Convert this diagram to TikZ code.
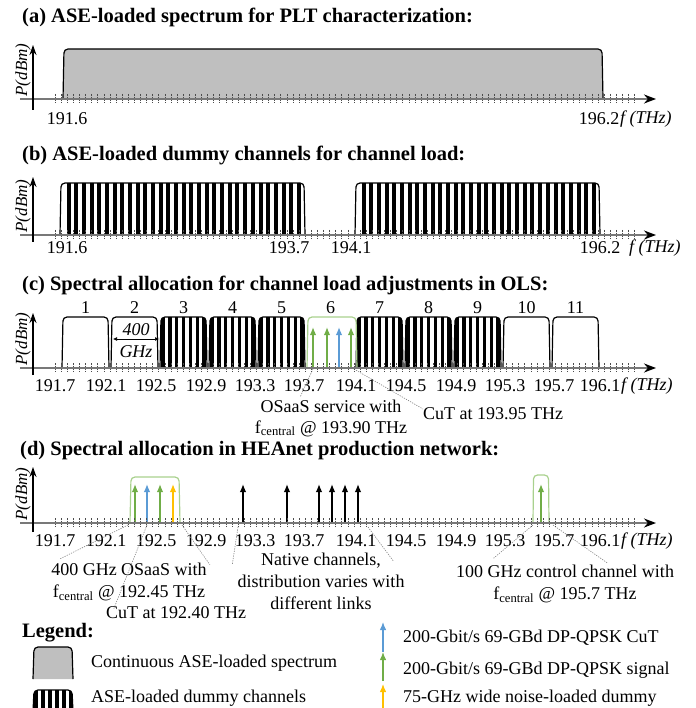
\documentclass[tikz,border=0pt]{standalone}
\usepackage{fontspec}
\setmainfont{Liberation Serif}
\usetikzlibrary{arrows.meta,positioning,calc}
\definecolor{sigblue}{RGB}{91,155,213}
\definecolor{siggreen}{RGB}{112,173,71}
\definecolor{sigyellow}{RGB}{255,192,0}
\definecolor{boxgreen}{RGB}{169,209,142}
\definecolor{asegray}{RGB}{191,191,191}
\definecolor{axisgray}{RGB}{120,120,120}
\tikzset{
    paneltitle/.style={anchor=west, inner sep=0pt, font=\fontsize{20.5}{22}\selectfont\bfseries},
    freq/.style={inner sep=0pt, font=\fontsize{18}{20}\selectfont},
    unitlabel/.style={anchor=west, inner sep=0pt, font=\fontsize{18}{20}\selectfont\itshape},
    powerlabel/.style={rotate=90, inner sep=0pt, font=\fontsize{17}{19}\selectfont\itshape},
    note/.style={inner sep=0pt, align=center, font=\fontsize{18}{22}\selectfont},
    legendtext/.style={anchor=west, inner sep=0pt, font=\fontsize{18}{20}\selectfont},
    faxis/.style={axisgray, line width=1.8pt, -{Stealth[black, length=12pt, width=9pt]}},
    paxis/.style={black, line width=1.2pt, -{Stealth[length=10pt, width=7pt]}},
    fticks/.style={black!70, line width=0.6pt, dash pattern=on 1.6pt off 1pt},
    chan/.style={black, line width=1.2pt, rounded corners=4pt},
    osaas/.style={boxgreen, line width=1.2pt, rounded corners=4pt},
    sig/.style={line width=1.5pt, -{Latex[length=8pt, width=6.5pt]}},
    leader/.style={gray, line width=0.6pt, dash pattern=on 1.2pt off 1.2pt},
}

\begin{document}
\begin{tikzpicture}[x=1pt, y=-1pt]
    \useasboundingbox (0,0) rectangle (695,708);

    % (a) continuous ASE
    \node[paneltitle] (ta) at (22,17) {(a) ASE-loaded spectrum for PLT characterization:};
    \draw[chan, fill=asegray] (63,99) -- (64,49) -- (602,49) -- (603,99);
    \node[freq] (fa1) at (67,119) {191.6};
    \node[freq] (fa2) at (599,119) {196.2};
    \node[unitlabel] (ua) at (620,119) {f (THz)};

    % (b) dummy channels
    \node[paneltitle] (tb) at (22,155) {(b) ASE-loaded dummy channels for channel load:};
    \foreach \bx in {60,355} {
        \begin{scope}
            \clip[rounded corners=4pt] (\bx,235) -- (\bx+1,183) -- (\bx+244,183) -- (\bx+245,235) -- cycle;
            \foreach \i in {0,...,30}
                \fill ({\bx+6.5+7.68*\i},183) rectangle ++(4,52);
        \end{scope}
        \draw[chan] (\bx,235) -- (\bx+1,183) -- (\bx+244,183) -- (\bx+245,235);
    }
    \foreach \f/\x [count=\k] in {191.6/67, 193.7/289, 194.1/351, 196.2/600}
        \node[freq] (fb\k) at (\x,248) {\f};
    \node[unitlabel] (ub) at (629,248) {f (THz)};

    % (c) channel load in OLS
    \node[paneltitle] (tc) at (22,285) {(c) Spectral allocation for channel load adjustments in OLS:};
    \foreach \n in {1,2,10,11} {
        \pgfmathsetmacro\bx{62+49*(\n-1)}
        \draw[chan] (\bx,368) -- (\bx+1,317) -- (\bx+46,317) -- (\bx+47,368);
    }
    \foreach \n in {3,4,5,7,8,9} {
        \pgfmathsetmacro\bx{62+49*(\n-1)}
        \begin{scope}
            \clip[rounded corners=4pt] (\bx,368) -- (\bx+1,317) -- (\bx+46,317) -- (\bx+47,368) -- cycle;
            \foreach \i in {0,...,6}
                \fill ({\bx+1+6.9*\i},317) rectangle ++(3.6,51);
        \end{scope}
        \draw[chan] (\bx,368) -- (\bx+1,317) -- (\bx+46,317) -- (\bx+47,368);
    }
    \draw[osaas] (307,368) -- (308,317) -- (356,317) -- (357,368);
    \foreach \x/\col in {313/siggreen, 327/siggreen, 339/sigblue, 351/siggreen}
        \draw[sig, \col] (\x,368) -- (\x,327);
    \foreach \n in {1,...,11}
        \node[freq] (ch\n) at ({85.5+49*(\n-1)},308) {\n};
    \coordinate (gl) at (113,339);
    \coordinate (gr) at (159,339);
    \draw[{Latex[length=4pt,width=4pt]}-{Latex[length=4pt,width=4pt]}, line width=0.7pt] (gl) -- (gr);
    \node[freq, font=\fontsize{18}{20}\selectfont\itshape] (w400) at (136,330) {400};
    \node[freq, font=\fontsize{18}{20}\selectfont\itshape] (wghz) at (136,352) {GHz};
    \foreach \f/\x [count=\k] in {191.7/55, 192.1/106, 192.5/156, 192.9/206, 193.3/255, 193.7/304, 194.1/356, 194.5/406, 194.9/456, 195.3/505, 195.7/554, 196.1/600}
        \node[freq] (fc\k) at (\x,386) {\f};
    \node[unitlabel] (uc) at (621,386) {f (THz)};
    \node[note, font=\fontsize{18}{21}\selectfont] (osaasc) at (331,418) {OSaaS service with\\f\textsubscript{central} @ 193.90 THz};
    \node[note, anchor=west] (cutc) at (423,414) {CuT at 193.95 THz};
    \coordinate (osaascL) at (313,369);
    \coordinate (cutcL) at (354,369);
    \draw[leader] (osaascL) -- ([xshift=-31pt,yshift=2pt]osaasc.north);
    \draw[leader] (cutcL) -- ([yshift=5pt]cutc.west);

    % (d) HEAnet production network
    \node[paneltitle] (td) at (20,451) {(d) Spectral allocation in HEAnet production network:};
    \draw[osaas] (130,523) -- (131,477) -- (179,477) -- (180,523);
    \draw[osaas] (533,523) -- (533.5,475) -- (548.5,475) -- (549,523);
    \foreach \x/\col in {135/siggreen, 147/sigblue, 160/siggreen, 173/sigyellow, 541/siggreen}
        \draw[sig, \col] (\x,523) -- (\x,484);
    \foreach \x in {243,287,319,332,345,358}
        \draw[sig, black] (\x,523) -- (\x,484);
    \foreach \f/\x [count=\k] in {191.7/55, 192.1/106, 192.5/156, 192.9/206, 193.3/255, 193.7/304, 194.1/356, 194.5/406, 194.9/456, 195.3/505, 195.7/554, 196.1/600}
        \node[freq] (fd\k) at (\x,541) {\f};
    \node[unitlabel] (ud) at (621,541) {f (THz)};
    \node[note] (osaasd) at (129,582) {400 GHz OSaaS with\\f\textsubscript{central} @ 192.45 THz};
    \node[note] (cutd) at (176,613) {CuT at 192.40 THz};
    \node[note] (native) at (321,581) {Native channels,\\distribution varies with\\different links};
    \node[note] (ctrl) at (565,584) {100 GHz control channel with\\f\textsubscript{central} @ 195.7 THz};
    \coordinate (osaasdL) at (128,525);
    \coordinate (osaasdR) at (182,525);
    \coordinate (cutdL) at (147,525);
    \coordinate (nativeL) at (238,527);
    \coordinate (nativeR) at (368,527);
    \coordinate (ctrlL) at (533,525);
    \coordinate (ctrlR) at (553,525);
    \draw[leader] (osaasdL) -- ([xshift=9pt,yshift=4pt]osaasd.north west);
    \draw[leader] (osaasdR) -- ([xshift=3pt,yshift=-2pt]osaasd.north east);
    \draw[leader] (cutdL) -- ([xshift=8pt,yshift=-2pt]cutd.north west);
    \draw[leader] (nativeL) -- ([xshift=-5pt,yshift=-12pt]native.north west);
    \draw[leader] (nativeR) -- ([xshift=-11pt,yshift=-9pt]native.north east);
    \draw[leader] (ctrlL) -- ([xshift=37pt,yshift=6pt]ctrl.north west);
    \draw[leader] (ctrlR) -- ([xshift=-67pt,yshift=2pt]ctrl.north east);

    % Legend
    \node[paneltitle] (legend) at (22,633) {Legend:};
    \draw[chan, fill=asegray] (33,679) -- (34,647) -- (72,647) -- (73,679);
    \node[legendtext] (lgcont) at (91,663) {Continuous ASE-loaded spectrum};
    \begin{scope}
        \clip[rounded corners=4pt] (33,712) -- (34,690) -- (72,690) -- (73,712) -- cycle;
        \foreach \i in {0,...,5}
            \fill ({33.5+7*\i},690) rectangle ++(4,22);
    \end{scope}
    \draw[chan] (33,712) -- (34,690) -- (72,690) -- (73,712);
    \node[legendtext] (lgdummy) at (91,698) {ASE-loaded dummy channels};
    \draw[sig, sigblue, line width=1.2pt] (383,652) -- (383,622);
    \draw[sig, siggreen, line width=1.2pt] (383,681) -- (383,652);
    \draw[sig, sigyellow, line width=1.2pt] (383,710) -- (383,684);
    \node[legendtext] (lgcut) at (403,638) {200-Gbit/s 69-GBd DP-QPSK CuT};
    \node[legendtext] (lgsig) at (403,670) {200-Gbit/s 69-GBd DP-QPSK signal};
    \node[legendtext] (lgdum) at (403,698) {75-GHz wide noise-loaded dummy};

    % Axes
    \foreach \ay/\ytop/\ybot/\p in {99/45/110/a, 235/177/242/b, 368/313/375/c, 523/467/532/d} {
        \foreach \k in {0,...,95}
            \draw[fticks] ({55+6.1*\k},\ay-5) -- ++(0,9);
        \draw[faxis] (20,\ay) -- (656,\ay);
        \draw[paxis] (33,\ybot) -- (33,\ytop);
        \node[powerlabel] (p\p) at (23,\ay-29) {P(dBm)};
    }
\end{tikzpicture}
\end{document}
